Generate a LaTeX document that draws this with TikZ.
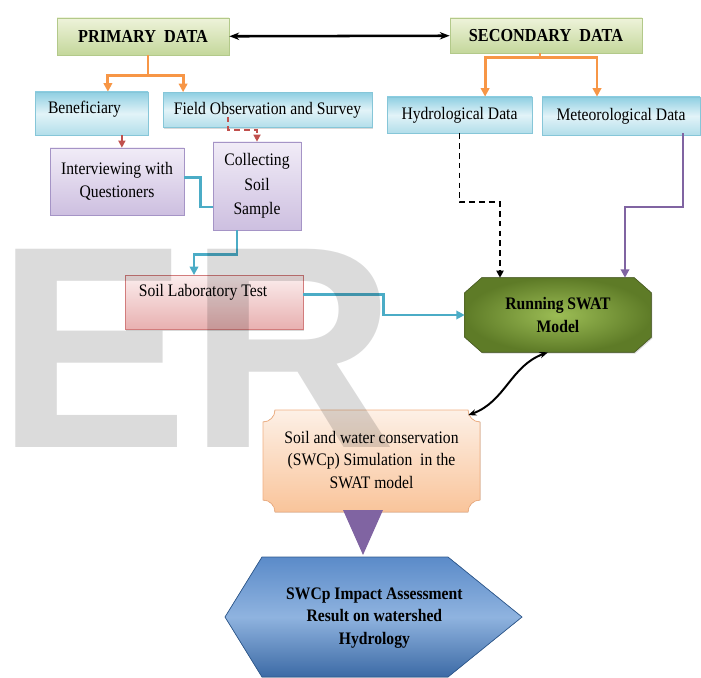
\documentclass[tikz,border=0pt]{standalone}
\usepackage{fontspec}
\setmainfont{Liberation Serif}[FakeStretch=0.89]
\newfontfamily\wmfont{Liberation Sans}
\usetikzlibrary{arrows.meta,shadows,backgrounds}

\definecolor{hdTop}{HTML}{EEF3DA}
\definecolor{hdBot}{HTML}{C4D79B}
\definecolor{hdLine}{HTML}{B3C98A}
\definecolor{dbTop}{HTML}{8FCFE2}
\definecolor{dbMid}{HTML}{E2F3F8}
\definecolor{dbBot}{HTML}{B2DEEA}
\definecolor{dbLine}{HTML}{86C6D8}
\definecolor{tbTop}{HTML}{F1ECF7}
\definecolor{tbBot}{HTML}{CDBFE0}
\definecolor{tbLine}{HTML}{A594C6}
\definecolor{lbTop}{HTML}{FBEDED}
\definecolor{lbBot}{HTML}{E8B0B0}
\definecolor{lbLine}{HTML}{D27C7C}
\definecolor{swIn}{HTML}{9CBD55}
\definecolor{swOut}{HTML}{5E7B27}
\definecolor{swLine}{HTML}{4F6228}
\definecolor{pcTop}{HTML}{FDF0E6}
\definecolor{pcBot}{HTML}{F9C49A}
\definecolor{pcLine}{HTML}{F0B083}
\definecolor{hxTop}{HTML}{5B8BC9}
\definecolor{hxMid}{HTML}{8FB3DF}
\definecolor{hxBot}{HTML}{3C6AA5}
\definecolor{hxLine}{HTML}{2F5A8F}
\definecolor{lnOrange}{HTML}{F79646}
\definecolor{lnRed}{HTML}{C0504D}
\definecolor{lnBlue}{HTML}{4BACC6}
\definecolor{lnPurple}{HTML}{8064A2}

\begin{document}
\begin{tikzpicture}[
  every node/.style={font=\fontsize{12.5}{16}\selectfont},
  shadowed/.style={drop shadow={shadow xshift=0.7pt,shadow yshift=-0.9pt,opacity=0.3}},
  headbox/.style={draw=hdLine, line width=0.5pt, top color=hdTop, bottom color=hdBot, shadowed,
    font=\fontsize{13}{16}\selectfont\bfseries},
  databox/.style={draw=dbLine, line width=0.5pt, top color=dbTop, bottom color=dbBot, middle color=dbMid, shadowed},
  taskbox/.style={draw=tbLine, line width=0.5pt, top color=tbTop, bottom color=tbBot, shadowed, align=center},
  labbox/.style={draw=lbLine, line width=0.6pt, top color=lbTop, bottom color=lbBot, shadowed},
  tip/.style={-{Triangle[length=#1,width=#1]}},
  orangeln/.style={draw=lnOrange, line width=2pt, tip=6pt},
  redln/.style={draw=lnRed, line width=1.1pt, dash pattern=on 4pt off 3pt, tip=5pt},
  blueln/.style={draw=lnBlue, line width=2pt},
  blackdash/.style={draw=black, line width=1.3pt, dash pattern=on 4pt off 3pt, tip=5pt},
  purpleln/.style={draw=lnPurple, line width=1.6pt, tip=6pt}
]
\useasboundingbox (0,0) rectangle (17.525,-16.95);

% data sources
\node[headbox, minimum width=4.3cm, minimum height=0.925cm] (prim) at (3.575,-0.9125) {PRIMARY~~DATA};
\node[headbox, minimum width=4.8cm, minimum height=0.875cm] (sec) at (13.65,-0.8875) {SECONDARY~~DATA};
\draw[line width=1.8pt, {Stealth[length=7pt]}-{Stealth[length=7pt]}] (prim) -- (sec);

% primary branch
\node[databox, minimum width=2.825cm, minimum height=1.075cm, text depth=0.3cm] (benef) at (2.2875,-2.8375) {Beneficiary\hspace*{0.35cm}};
\node[databox, minimum width=5.225cm, minimum height=0.875cm] (field) at (6.6875,-2.75) {Field Observation and Survey};
\node[taskbox, minimum width=3.35cm, minimum height=1.675cm] (inter) at (2.925,-4.5375) {Interviewing with\\Questioners};
\node[taskbox, minimum width=2.2cm, minimum height=2.2cm, font=\fontsize{12.5}{17.5}\selectfont] (coll) at (6.425,-4.65) {Collecting\\Soil\\Sample};
\node[labbox, minimum width=4.45cm, minimum height=1.35cm, text depth=0.58cm] (soil) at (5.35,-7.5625) {Soil Laboratory Test\hspace*{0.55cm}};

\draw[orangeln] ([xshift=0.125cm]prim.south) -- ++(0,-0.5) -| ([xshift=0.41cm]benef.north);
\draw[orangeln] ([xshift=0.125cm]prim.south) -- ++(0,-0.5) -| ([xshift=-2.11cm]field.north);
\draw[redln] ([xshift=0.76cm]benef.south) -- ([xshift=0.76cm]benef.south |- inter.north);
\draw[redln] ([xshift=-0.99cm,yshift=0.28cm]field.south) -- ++(0,-0.33) -| (coll.north);
\draw[blueln] ([yshift=0.09cm]inter.east) -- ++(0.4,0) |- ([yshift=-0.525cm]coll.west);
\draw[blueln, tip=6pt] ([xshift=-0.5cm]coll.south) -- ++(0,-0.6) -| ([xshift=-0.5cm]soil.north);

% secondary branch
\node[databox, minimum width=3.625cm, minimum height=0.9cm] (hydro) at (11.4875,-2.875) {Hydrological Data};
\node[databox, minimum width=3.95cm, minimum height=0.95cm] (meteo) at (15.525,-2.9) {Meteorological Data};
\draw[orangeln] ([xshift=-0.15cm]sec.south) -- ++(0,-0.1) -| ([xshift=0.64cm]hydro.north);
\draw[orangeln] ([xshift=-0.15cm]sec.south) -- ++(0,-0.1) -| ([xshift=-0.6cm]meteo.north);

% model
\node[align=center, minimum width=4.65cm, minimum height=1.85cm, font=\fontsize{12.5}{16}\selectfont\bfseries] (swat) at (13.95,-7.875) {Running SWAT\\Model};
\begin{pgfonlayer}{background}
\fill[inner color=swIn, outer color=swOut, draw=swLine, line width=0.5pt, shadowed]
  ([xshift=0.425cm]swat.north west) -- ([xshift=-0.425cm]swat.north east)
  -- ([yshift=-0.375cm]swat.north east) -- ([yshift=0.375cm]swat.south east)
  -- ([xshift=-0.425cm]swat.south east) -- ([xshift=0.425cm]swat.south west)
  -- ([yshift=0.375cm]swat.south west) -- ([yshift=-0.375cm]swat.north west) -- cycle;
\end{pgfonlayer}
\draw[blueln, tip=6pt] ([yshift=0.19cm]soil.east) -- ++(2,0) |- (swat.west);
\draw[blackdash] (hydro.south) -- ++(0,-1.725) -| ([xshift=-1.45cm]swat.north);
\draw[purpleln] ([xshift=1.55cm,yshift=0.05cm]meteo.south) -- ++(0,-1.85) -| ([xshift=1.675cm]swat.north);

% simulation plaque
\fill[top color=pcTop, bottom color=pcBot, draw=pcLine, line width=0.5pt]
  (6.875,-10.25) -- (11.7,-10.25) arc[start angle=180,end angle=270,radius=0.3]
  -- (12.0,-12.5) arc[start angle=90,end angle=180,radius=0.3]
  -- (6.875,-12.8) arc[start angle=0,end angle=90,radius=0.3]
  -- (6.575,-10.55) arc[start angle=270,end angle=360,radius=0.3] -- cycle;
\node[align=center] (swcp) at (9.2875,-11.5) {Soil and water conservation\\(SWCp) Simulation~ in the\\SWAT model};
\coordinate (swcpEnd) at (11.7,-10.38);
\draw[line width=1.4pt, {Stealth[length=6pt]}-{Stealth[length=6pt]}] ([xshift=-0.25cm]swat.south) to[out=200,in=20] (swcpEnd);

\fill[lnPurple] (8.575,-12.75) -- (9.575,-12.75) -- (9.075,-13.875) -- cycle;

% result
\fill[top color=hxTop, bottom color=hxBot, middle color=hxMid, draw=hxLine, line width=0.5pt]
  (5.625,-15.425) -- (6.55,-13.925) -- (11.2,-13.925) -- (13.05,-15.425) -- (11.2,-16.925) -- (6.55,-16.925) -- cycle;
\node[align=center, font=\fontsize{12.5}{16}\selectfont\bfseries] (impact) at (9.36,-15.45) {SWCp Impact Assessment\\Result on watershed\\Hydrology};

% watermark
\node[font=\wmfont\bfseries\fontsize{205}{205}\selectfont, text=black, text opacity=0.14, anchor=base west, inner sep=0pt] (wmark) at (-0.1,-11.175) {ER};

\end{tikzpicture}
\end{document}
